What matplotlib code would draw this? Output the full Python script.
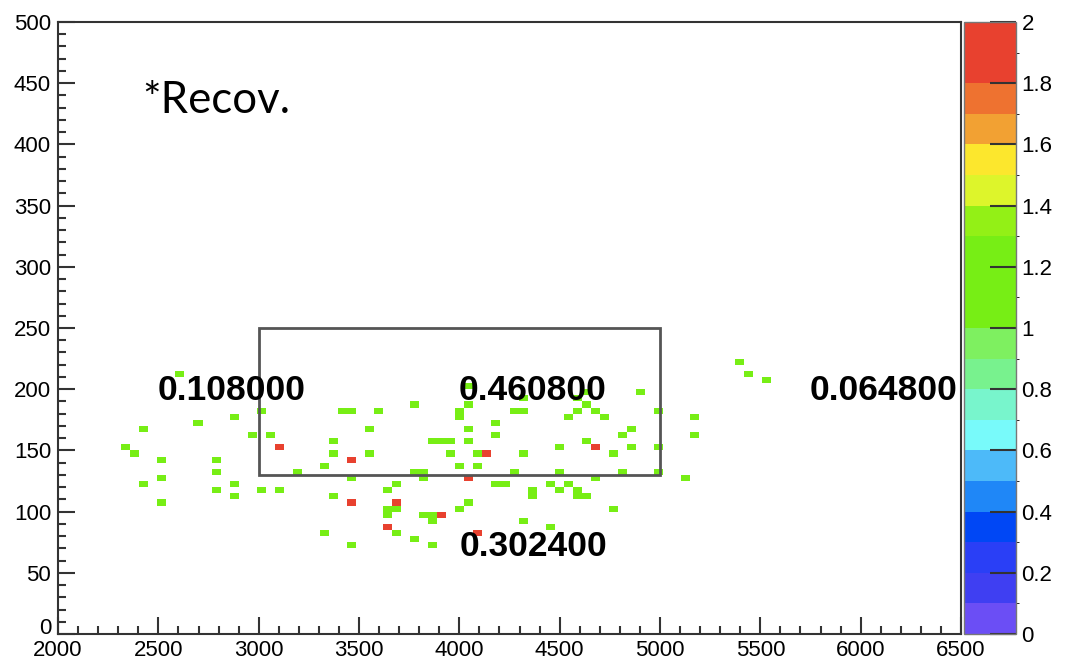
import matplotlib
matplotlib.use("Agg")
import matplotlib.pyplot as plt
import numpy as np
from matplotlib.colors import ListedColormap, BoundaryNorm
from matplotlib.patches import Rectangle
from matplotlib.ticker import MultipleLocator

# histogram binning (100 x 100 bins)
x_edges = np.linspace(2000, 6500, 101)
y_edges = np.linspace(0, 500, 101)

# filled bins: x centre, y centre, content
hit_x = [2607.5, 2877.5, 3012.5, 2697.5, 2427.5, 2967.5, 3057.5, 3102.5, 2337.5, 2382.5,
         2517.5, 2787.5, 2787.5, 3192.5, 2517.5, 2427.5, 2787.5, 2877.5, 2877.5, 3012.5,
         3102.5, 2517.5, 3417.5, 3462.5, 3597.5, 3777.5, 4002.5, 4002.5, 4047.5, 3552.5,
         4047.5, 4182.5, 4182.5, 3372.5, 3867.5, 3912.5, 3957.5, 4047.5, 3372.5, 3552.5,
         3957.5, 4092.5, 4137.5, 3462.5, 3327.5, 4002.5, 4092.5, 3777.5, 3822.5, 3462.5,
         3822.5, 4047.5, 4182.5, 4227.5, 3687.5, 3642.5, 3372.5, 3462.5, 3687.5, 4047.5,
         3642.5, 3687.5, 3642.5, 4002.5, 3822.5, 3867.5, 3867.5, 3912.5, 3642.5, 3327.5,
         3687.5, 3777.5, 4092.5, 3462.5, 3867.5, 4902.5, 4272.5, 4317.5, 4632.5, 4587.5,
         4677.5, 4542.5, 4722.5, 4992.5, 5172.5, 4857.5, 4812.5, 5172.5, 4632.5, 4677.5,
         4497.5, 4857.5, 4992.5, 4317.5, 4767.5, 4272.5, 4497.5, 4812.5, 4992.5, 4677.5,
         5127.5, 4452.5, 4542.5, 4362.5, 4362.5, 4497.5, 4587.5, 4587.5, 4632.5, 4767.5,
         4317.5, 4452.5, 5397.5, 5442.5, 5532.5, 4047.5, 4317.5, 4587.5, 4632.5]
hit_y = [212.5, 177.5, 182.5, 172.5, 167.5, 162.5, 162.5, 152.5, 152.5, 147.5,
         142.5, 142.5, 132.5, 132.5, 127.5, 122.5, 117.5, 122.5, 112.5, 117.5,
         117.5, 107.5, 182.5, 182.5, 182.5, 187.5, 182.5, 177.5, 187.5, 167.5,
         167.5, 172.5, 162.5, 157.5, 157.5, 157.5, 157.5, 157.5, 147.5, 147.5,
         147.5, 147.5, 147.5, 142.5, 137.5, 137.5, 137.5, 132.5, 132.5, 127.5,
         127.5, 127.5, 122.5, 122.5, 122.5, 117.5, 112.5, 107.5, 107.5, 107.5,
         102.5, 102.5, 97.5, 102.5, 97.5, 97.5, 92.5, 97.5, 87.5, 82.5,
         82.5, 77.5, 82.5, 72.5, 72.5, 197.5, 182.5, 182.5, 187.5, 182.5,
         182.5, 177.5, 177.5, 182.5, 177.5, 167.5, 162.5, 162.5, 157.5, 152.5,
         152.5, 152.5, 152.5, 147.5, 147.5, 132.5, 132.5, 132.5, 132.5, 127.5,
         127.5, 122.5, 122.5, 117.5, 112.5, 117.5, 117.5, 112.5, 112.5, 102.5,
         92.5, 87.5, 222.5, 212.5, 207.5, 202.5, 192.5, 192.5, 197.5]
hit_w = [1, 1, 1, 1, 1, 1, 1, 2, 1, 1,
         1, 1, 1, 1, 1, 1, 1, 1, 1, 1,
         1, 1, 1, 1, 1, 1, 1, 1, 1, 1,
         1, 1, 1, 1, 1, 1, 1, 1, 1, 1,
         1, 1, 2, 2, 1, 1, 1, 1, 1, 1,
         1, 2, 1, 1, 1, 1, 1, 2, 2, 1,
         1, 1, 1, 1, 1, 1, 1, 2, 2, 1,
         1, 1, 2, 1, 1, 1, 1, 1, 1, 1,
         1, 1, 1, 1, 1, 1, 1, 1, 1, 2,
         1, 1, 1, 1, 1, 1, 1, 1, 1, 1,
         1, 1, 1, 1, 1, 1, 1, 1, 1, 1,
         1, 1, 1, 1, 1, 1, 1, 1, 1]

# region values printed on the plot
region_labels = ["0.108000", "0.460800", "0.064800", "0.302400"]
region_x = [2864, 4367, 6113, 4367]
region_y = [191, 191, 191, 64]

# signal box
box_x = (3000, 5000)
box_y = (130, 250)

cbar_ticks = [0, 0.2, 0.4, 0.6, 0.8, 1.0, 1.2, 1.4, 1.6, 1.8, 2.0]
cbar_labels = ["0", "0.2", "0.4", "0.6", "0.8", "1", "1.2", "1.4", "1.6", "1.8", "2"]

# ROOT-like palette, 20 contour levels
palette = ["#6b4ef5", "#3f3ff2", "#2a3ff6", "#0047f5", "#1f87f7", "#4dbaf9",
           "#78fafa", "#78f5cc", "#78f28e", "#7ef060", "#77ee15", "#77ee15",
           "#77ee15", "#93f016", "#ddf52b", "#fce72d", "#f2a133", "#ee7230",
           "#e8412f", "#e8412f"]
cmap = ListedColormap(palette)
cmap.set_over("#e8412f")
norm = BoundaryNorm(np.linspace(0, 2, 21), cmap.N)

H, _, _ = np.histogram2d(hit_x, hit_y, bins=[x_edges, y_edges], weights=hit_w)
H = np.ma.masked_equal(H.T, 0)

plt.rcParams['font.family'] = ['Liberation Sans', 'DejaVu Sans']
fig = plt.figure(figsize=(10.77, 6.63), dpi=100)
ax = fig.add_axes([0.0539, 0.0437, 0.8384, 0.9231])
cax = fig.add_axes([0.8951, 0.0437, 0.0483, 0.9231])

mesh = ax.pcolormesh(x_edges, y_edges, H, cmap=cmap, norm=norm)

ax.add_patch(Rectangle((box_x[0], box_y[0]), box_x[1] - box_x[0], box_y[1] - box_y[0],
                       fill=False, edgecolor="#555555", lw=2.0, zorder=3))

for lab, tx, ty in zip(region_labels, region_x, region_y):
    ax.text(tx, ty, lab, ha='center', va='baseline', fontsize=25.5,
            fontweight='bold', color='black', zorder=4)

ax.text(2418, 426, "*Recov.", ha='left', va='baseline', fontsize=31.5,
        family=['Lato', 'DejaVu Sans'], color='black')

ax.set_xlim(2000, 6500)
ax.set_ylim(0, 500)
ax.xaxis.set_major_locator(MultipleLocator(500))
ax.xaxis.set_minor_locator(MultipleLocator(100))
ax.yaxis.set_major_locator(MultipleLocator(50))
ax.yaxis.set_minor_locator(MultipleLocator(10))
ax.tick_params(which='both', direction='in', top=False, right=False,
               color='#333333', width=1.5, labelsize=16)
ax.tick_params(which='major', length=12)
ax.tick_params(which='minor', length=6)
ax.tick_params(axis='x', which='major', pad=4)
ax.tick_params(axis='y', which='major', pad=5)
for s in ax.spines.values():
    s.set_linewidth(1.5)
    s.set_color('#333333')

cb = fig.colorbar(mesh, cax=cax, ticks=cbar_ticks)
cb.ax.set_yticklabels(cbar_labels)
cb.ax.tick_params(direction='in', length=19, width=1.5, color='#333333',
                  labelsize=16, pad=4)
cb.outline.set_edgecolor('#777777')
cb.outline.set_linewidth(1.0)

# ROOT puts the "0" of the y axis just above the x labels
fig.canvas.draw()
for t in ax.yaxis.get_major_ticks():
    if t.get_loc() == 0:
        t.label1.set_verticalalignment('baseline')

fig.savefig("out.png", dpi=100)
